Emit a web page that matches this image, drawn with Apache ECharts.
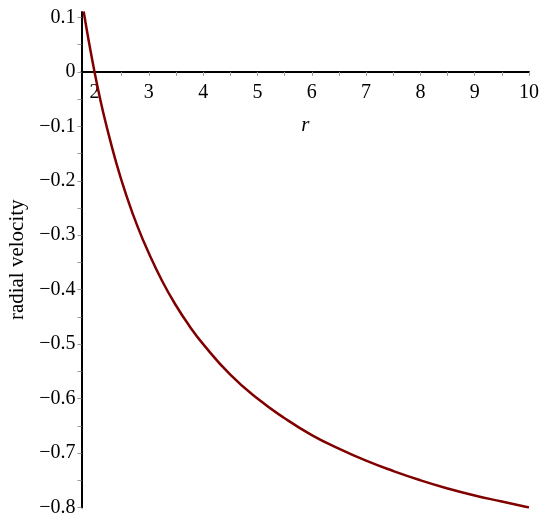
<!DOCTYPE html>
<html>
<head>
<meta charset="utf-8">
<script src="https://cdn.jsdelivr.net/npm/echarts@6/dist/echarts.min.js"></script>
<style>
  html, body { margin: 0; padding: 0; background: #fff; }
  #chart { width: 550px; height: 526px; }
</style>
</head>
<body>
<div id="chart"></div>
<script>
// values
var rValues = [1.8, 1.9, 2.0, 2.1, 2.2, 2.4, 2.6, 2.8, 3.0, 3.25, 3.5, 3.75, 4.0, 4.5, 5.0, 5.5, 6.0, 6.5, 7.0, 7.5, 8.0, 8.5, 9.0, 9.5, 10.0];
var velocity = [0.111, 0.053, 0.0, -0.048, -0.091, -0.167, -0.231, -0.286, -0.333, -0.385, -0.429, -0.467, -0.5, -0.556, -0.6, -0.636, -0.667, -0.692, -0.714, -0.733, -0.75, -0.765, -0.778, -0.789, -0.8];
var xLabels = [2, 3, 4, 5, 6, 7, 8, 9, 10];
var xTicks = [2, 2.5, 3, 3.5, 4, 4.5, 5, 5.5, 6, 6.5, 7, 7.5, 8, 8.5, 9, 9.5, 10];
var yLabels = [-0.8, -0.7, -0.6, -0.5, -0.4, -0.3, -0.2, -0.1, 0, 0.1];
var yTicks = [-0.8, -0.75, -0.7, -0.65, -0.6, -0.55, -0.5, -0.45, -0.4, -0.35, -0.3, -0.25, -0.2, -0.15, -0.1, -0.05, 0, 0.05, 0.1];

var points = rValues.map(function (r, i) { return [r, velocity[i]]; });
var serif = '"Liberation Serif", "DejaVu Serif", serif';

var gridTop = 12, gridBottom = 18.5, yMin = -0.8, yMax = 0.11;
var plotH = 526 - gridTop - gridBottom;
// move the x axis up to the y = 0 line
var zeroOffset = -plotH * (0 - yMin) / (yMax - yMin);

var chart = echarts.init(document.getElementById('chart'));
chart.setOption({
  animation: false,
  grid: { left: 81.5, right: 21, top: gridTop, bottom: gridBottom, containLabel: false, outerBoundsMode: 'none' },
  xAxis: {
    type: 'value',
    min: 1.76,
    max: 10,
    position: 'bottom',
    offset: zeroOffset,
    name: 'r',
    nameLocation: 'middle',
    nameGap: 43,
    nameTextStyle: { fontFamily: serif, fontStyle: 'italic', fontSize: 21, color: '#000' },
    axisLine: { onZero: false, lineStyle: { color: '#000', width: 2 } },
    axisTick: { customValues: xTicks, length: 4, lineStyle: { color: '#999' } },
    axisLabel: {
      customValues: xLabels,
      margin: 11,
      fontFamily: serif, fontSize: 20, color: '#000',
      formatter: function (v) { return String(v); }
    },
    splitLine: { show: false }
  },
  yAxis: {
    type: 'value',
    min: yMin,
    max: yMax,
    name: 'radial velocity',
    nameLocation: 'middle',
    nameGap: 53,
    nameTextStyle: { fontFamily: serif, fontSize: 21, color: '#000' },
    axisLine: { onZero: false, lineStyle: { color: '#000', width: 2 } },
    axisTick: { customValues: yTicks, length: 4, lineStyle: { color: '#999' } },
    axisLabel: {
      customValues: yLabels,
      margin: 6,
      fontFamily: serif, fontSize: 20, color: '#000',
      formatter: function (v) { return v === 0 ? '0' : v.toFixed(1).replace('-', '\u2212'); }
    },
    splitLine: { show: false }
  },
  series: [{
    type: 'line',
    data: points,
    smooth: true,
    showSymbol: false,
    lineStyle: { color: '#800000', width: 2.5 }
  }]
});
</script>
</body>
</html>
